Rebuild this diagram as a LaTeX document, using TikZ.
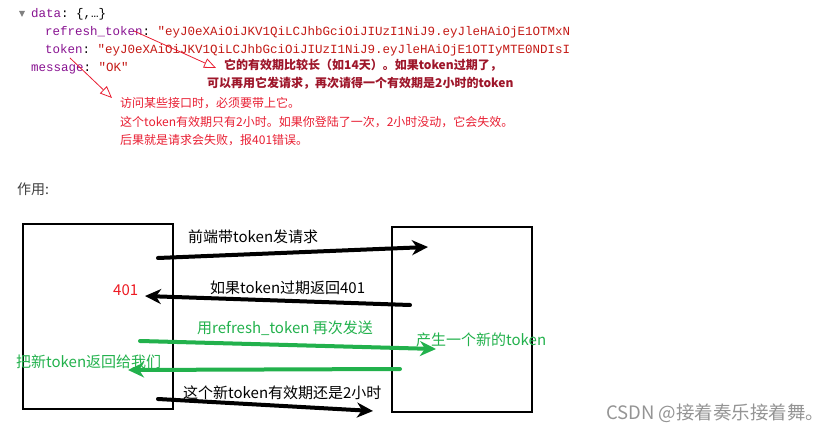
\documentclass[tikz,border=0pt]{standalone}
\usepackage{fontspec}
\setmainfont{Noto Sans CJK SC}
\setmonofont{Liberation Mono}
\usetikzlibrary{arrows.meta}

\definecolor{keypurple}{RGB}{136,19,145}
\definecolor{strred}{RGB}{196,26,22}
\definecolor{notedark}{RGB}{158,22,42}
\definecolor{notered}{RGB}{232,30,50}
\definecolor{flowgreen}{RGB}{34,177,76}
\definecolor{errred}{RGB}{237,28,36}

\begin{document}
\begin{tikzpicture}[
			x=1pt, y=-1pt,
			json/.style={anchor=base west, inner sep=0pt, font=\ttfamily\fontsize{12.5}{15}\selectfont},
			note/.style={anchor=base west, inner sep=0pt, font=\fontsize{12}{14}\selectfont},
			lbl/.style={anchor=base west, inner sep=0pt, font=\fontsize{15}{18}\selectfont},
			box/.style={draw, line width=2.4pt, inner sep=0pt},
			flow/.style={line width=4pt, line cap=round, -{Stealth[length=16pt,width=15pt,inset=5pt]}},
			pointer/.style={notered, line width=0.8pt, -{Triangle[open,length=12pt,width=10pt]}}
			]
			\useasboundingbox (0,0) rectangle (831,433);
			
			% response preview
			\fill[gray] (19,11) -- (25,11) -- (22,17) -- cycle;
			\begin{scope}
				\clip (0,0) rectangle (569,80);
				\node[json] (data) at (31,18) {\textcolor{keypurple}{data}: \{,…\}};
				\node[json] (refresh) at (45,36) {\textcolor{keypurple}{refresh\_token}: \textcolor{strred}{"eyJ0eXAiOiJKV1QiLCJhbGciOiJIUzI1NiJ9.eyJleHAiOjE1OTMxNDk}};
				\node[json] (token) at (45,54) {\textcolor{keypurple}{token}: \textcolor{strred}{"eyJ0eXAiOiJKV1QiLCJhbGciOiJIUzI1NiJ9.eyJleHAiOjE1OTIyMTE0NDIsInVp}};
				\node[json] (message) at (31,72) {\textcolor{keypurple}{message}: \textcolor{strred}{"OK"}};
			\end{scope}
			
			\node[note, notedark, font=\bfseries\fontsize{12}{14}\selectfont] (note1a) at (224,70) {它的有效期比较长（如14天）。如果token过期了，};
			\node[note, notedark, font=\bfseries\fontsize{12}{14}\selectfont] (note1b) at (207,88) {可以再用它发请求，再次请得一个有效期是2小时的token};
			\node[note, notered] (note2a) at (120,108) {访问某些接口时，必须要带上它。};
			\node[note, notered] (note2b) at (120,127) {这个token有效期只有2小时。如果你登陆了一次，2小时没动，它会失效。};
			\node[note, notered] (note2c) at (120,145) {后果就是请求会失败，报401错误。};
			
			\coordinate (p1s) at (134,31);
			\coordinate (p1e) at (216,68);
			\coordinate (p2s) at (70,58);
			\coordinate (p2e) at (112,98);
			\draw[pointer] (p1s) -- (p1e);
			\draw[pointer] (p2s) -- (p2e);
			
			\node[anchor=base west, inner sep=0pt, text=black!75, font=\fontsize{14}{16}\selectfont] (use) at (17,195) {作用:};
			
			% front end and server
			\node[box, minimum width=150pt, minimum height=185pt] (front) at (98,316.5) {};
			\node[box, minimum width=140pt, minimum height=185pt] (server) at (462,319.5) {};
			
			\coordinate (r1s) at (158,258);
			\coordinate (r1e) at (428,247);
			\coordinate (r2s) at (410,305);
			\coordinate (r2e) at (145,296);
			\coordinate (r3s) at (140,341);
			\coordinate (r3e) at (436,349);
			\coordinate (r4s) at (400,369);
			\coordinate (r4e) at (128,370);
			\coordinate (r5s) at (158,399);
			\coordinate (r5e) at (373,411);
			
			\draw[flow] (r1s) -- (r1e);
			\draw[flow] (r2s) -- (r2e);
			\draw[flow, flowgreen] (r3s) -- (r3e);
			\draw[flow, flowgreen] (r4s) -- (r4e);
			\draw[flow] (r5s) -- (r5e);
			
			\node[lbl] (send) at (188,243) {前端带token发请求};
			\node[lbl] (expired) at (210,293) {如果token过期返回401};
			\node[lbl, errred] (code) at (113,295) {401};
			\node[lbl, flowgreen] (resend) at (197,333) {用refresh\_token 再次发送};
			\node[lbl, flowgreen] (newtok) at (416,345) {产生一个新的token};
			\node[lbl, flowgreen] (back) at (16,367) {把新token返回给我们};
			\node[lbl] (still) at (183,398) {这个新token有效期还是2小时};
			
			\node[anchor=base west, inner sep=0pt, text=black!42, font=\fontsize{18.5}{21}\selectfont] (mark) at (606,419) {CSDN @接着奏乐接着舞。};
		\end{tikzpicture}
\end{document}
